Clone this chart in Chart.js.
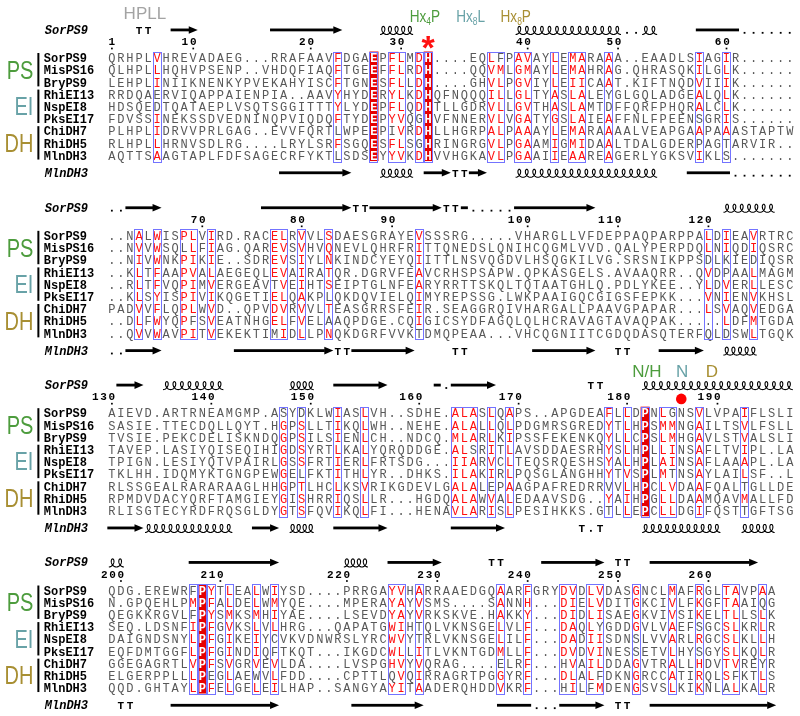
<!DOCTYPE html>
<html><head><meta charset="utf-8">
<script src="https://cdn.jsdelivr.net/npm/chart.js@4.4.1/dist/chart.umd.min.js"></script>
<style>html,body{margin:0;padding:0;background:#fff;overflow:hidden}canvas{display:block}</style>
</head><body>
<canvas id="c" width="800" height="716"></canvas>
<script>
// ---------------- DATA ----------------
const seqNames = ['SorPS9','MisPS16','BryPS9','RhiEI13','NspEI8','PksEI17','ChiDH7','RhiDH5','MlnDH3'];
const groupLabels = ['PS','EI','DH'];
const groupRows = [[0,2],[3,5],[6,8]];
const topTrackName = 'SorPS9';
const bottomTrackName = 'MlnDH3';

const block1 = [
 'QRHPLVHREVADAEG...RRAFAAVFDGAEPFLMDH....EQLFPAVAYLEMARAAA..EAADLSIAGIR......',
 'QLHPLLHQHVPSENP..VHDQFIAQFTGEEFFLRDH....QQVMLGMAYLEMAHRAG.QHRASQKILGLK......',
 'LEHPLINIIKNENKYPVEKAHYISCFTGNESFLLDH....GHVLPGVIYLEIICAAT.KIFTNQDVIIIK......',
 'RRDQAERVIQAPPAIENPIA..AAVYHYDERYLKDHQFNQQQILLGLTYASLALEYGLGQLADGEALQLK......',
 'HDSQEDTQATAEPLVSQTSGGITTTYLYDEPFLQDHTLLGDRVLLGVTHASLAMTDFFQRFPHQRALCLK......',
 'FDVSSINEKSSDVEDNINQPVIQDQFTYDEPYVQGHVFNNERVLVGATYGSLAIEAFFNLFPEENSGRIS......',
 'PLHPLIDRVVPRLGAG..EVVFQRTLWPEEPIVRDHLLHGRPALPAAAYLEMARAAAALVEAPGAAPAAASTAPTW',
 'RLHPLLHRNVSDLRG....LRYLSRFSGQESFLSGHRINGRGVLPGAAMIGMIDAALTDALGDERPAGTARVIR..',
 'AQTTSAAGTAPLFDFSAGECRFYKTLSDSEYYVKDHVVHGKAVLPGAAIIEAAREAGERLYGKSVIKLS.......'
];
const block2 = [
 '..NALWISPLVIRD.RACELRVVLSDAESGRAYEVSSSRG.....VHARGLLVFDEPPAQPARPPALDIEAVRTRC',
 '..NVVWSQLLFIAG.QAREVSVHVQNEVLQHRFRITTQNEDSLQNIHCQGMLVVD.QALYPERPDQLNIQDIQSRC',
 '..NIVWNKPIKIE..SDREVSIYLNKINDCYEYQIITTLNSVQGDVLHSQGKILVG.SRSNIKPPSDLKIEDIQSRC',
 '..KLTFAAPVALAEGEQLEVAIRATQR.DGRVFEAVCRHSPSAPW.QPKASGELS.AVAAQRR..QVDPAALMAGM',
 '..RLTFVQPIMVERGEAVTVEIHTSEIPTGLNFEARYRRTTSKQLTQTAATGHLQ.PDLYKEE..YLDVERLLESC',
 '..KLSYISPIVIKQGETIELQAKPLQKDQVIELQIMYREPSSG.LWKPAAIGQCGIGSFEPKK...VNIENVKHSL',
 'PADVVFLQPLWVD..QPVDVRVVLTEASGRRSFEIR.SEAGGRQIVHARGALLPAAVGPAPAR...LSVAQVEDGA',
 '..DLFWYQPFSVEATNHGELFVELAAQPDGE.CQIGICSYDFAGQLQLHCRAVAGTAVAQPAK.....LDFMTGDA',
 '..QVVWAVPITVEKEKTIMIDLLPNQKDGRFVVKTDMQPEAA...VHCQGNIITCGDQDASQTERFQLDSWLTGQK'
];
const block3 = [
 'AIEVD.ARTRNEAMGMP.ASYDKLWIASLVH..SDHE.ALASLQAPS..APGDEAFLLDPNLGNSVLVPAIFLSLI',
 'SASIE.TTECDQLLQYT.HGPSLLTIKQLWH..NEHE.ALALLQLPDGMRSGREDYTLHPSMMNGAILTSVLFSLL',
 'TVSIE.PEKCDELISKNDQGPSILSIENLCH..NDCQ.MLARLKIPSSFEKENKQYLLCPSLMHGAVLSTVALSLI',
 'TAVEP.LASIYQISEQIHIGDSYRTLKALYQRQDDGE.ALSRITLAVSDDAESRHYSLHPLLINSAFLTVIPL.LA',
 'TPIGN.LESIYQTVPAIRLGSSFRTIERLFRTSDG...IIARVCLTEQSRQESHSYALHPLAINSAFLAAAPL.LA',
 'TKLHH.IDQMYKTGNGPEWGELFKTITHLYR..DHKS.ILAKIRLPQSGLANGHHYTVSPLMTNSAYLAILSF..L',
 'RLSSGEALRARARAAGLHHGPTLHCLKSVRIKGDEVLGALALEPAAGPAFREDRRVVLHPCLVDAAFQALTGLLDE',
 'RPMDVDACYQRFTAMGIEYGISHRRIQSLLR...HGDQALAWVALEDAAVSDG..YAIHPGLLDAAMQAVMALLFD',
 'RLISGTECYRDFRQSGLDYGTSFQVIKQLFI...HENAVLARISLPESIHKKS.GTLLEPCLLDGIFQSTTGFTSG'
];
const block4 = [
 'QDG.EREWRFPYTLEALWIYSD....PRRGAYVHARRAAEDGQAARFGRYDVDLVDASGNCLMAFRGLTAVPAA',
 'N.GPQEHLPMPFALDELWMYQE....MPERAYAYVSMS....SANNH...DIELVDITGKCIVLFKGFTAAIQG',
 'QEGKKRGVLFPYSMKSMHIYAE....LSEVDYAYVRKSKVE.HAKKY...DIDLISAEGKVIVSIKELTLLSLK',
 'SEQ.LDSNFIPFGVKSLVLHRG...QAPATGWIHTQLVKNSGELVLF...DAQLYGDDGVLVAEFSGCSLKRLR',
 'DAIGNDSNYLPFGIKEIYCVKVDNWRSLYRCWVYTRLVKNSGELILF...DADIISDNSLVVARLRGCSLKLLH',
 'EQFDMTGGFLPFGINDIQFTKQT...IKGDCWLLITLVKNTGDMLLF...DVDVINESSETVLHYSGYSLKQLR',
 'GGEGAGRTLVPFSVGRVEVLDA....LVSPGHVYVQRAG....ELRF...HVAILDDAGVTRALLHDVTVREYR',
 'ELGERPPLLLPEGLAEWVLFDD....CPTTLQVQIRRAGRTPGGYRF...DLALFDKNGRCCATIRQLSFKTLS',
 'QQD.GHTAYLPFELGELEILHAP..SANGYAYITAADERQHDDVKRF...HILFMDENGSVSLKIKNLALKALR'
];

// similarity boxes (column ranges, 1-based) and fully conserved (red) columns
const boxes1 = [[6,6],[26,26],[30,30],[32,33],[35,35],[36,36],[43,44],[46,47],[50,50],[52,53],[56,56],[66,66],[69,69]];
const boxes2 = [[4,4],[6,6],[9,10],[12,12],[19,20],[22,22],[25,25],[35,35],[67,67],[69,69],[72,72]];
const boxes3 = [[20,20],[22,22],[26,26],[29,29],[39,41],[43,43],[45,45],[56,56],[58,58],[60,60],[62,63],[66,66],[71,71]];
const boxes4 = [[10,10],[11,11],[12,12],[14,14],[17,17],[19,19],[32,33],[35,35],[44,44],[47,47],[51,52],[54,55],[59,59],[63,63],[66,66],[69,70],[73,73]];
const conserved1 = [30,36];
const conserved2 = [];
const conserved3 = [60];
const conserved4 = [11];

// residue numbering (SorPS9) shown above each block
const ticks1 = [1,10,20,30,40,50,60];
const ticks2 = [70,80,90,100,110,120];
const ticks3 = [130,140,150,160,170,180,190];
const ticks4 = [200,210,220,230,240,250,260];

// secondary structure: [type, firstColumn, lastColumn]; E=strand, H=helix, T=turn, -=bridge, .=no data
const ssTop1 = [['T',4,5],['E',8,10],['E',19,26],['H',31,34],['H',46,57],['.',58,59],['H',60,61],['-',66,70],['.',71,76]];
const ssBot1 = [['E',20,27],['H',31,34],['E',36,38],['T',39,40],['E',41,42],['H',46,61],['-',65,69],['.',70,76]];
const ssTop2 = [['.',1,2],['E',3,6],['E',18,27],['T',28,29],['E',30,37],['T',38,39],['-',40,40],['.',41,45],['E',46,54],['H',69,74]];
const ssBot2 = [['.',1,2],['E',3,6],['E',15,25],['T',26,27],['E',28,34],['T',39,40],['E',48,54],['T',57,58],['E',62,66],['H',69,72]];
const ssTop3 = [['E',2,4],['H',7,13],['H',21,23],['E',26,31],['-',37,37],['.',38,38],['E',39,43],['T',54,55],['H',60,76]];
const ssBot3 = [['E',1,4],['H',5,14],['E',17,19],['H',21,23],['E',26,31],['E',39,44],['T',53,53],['.',54,54],['T',55,55],['H',60,68],['H',71,74]];
const ssTop4 = [['H',1,2],['E',10,19],['H',27,29],['E',32,37],['T',43,44],['E',49,55],['T',57,58],['E',61,72]];
const ssBot4 = [['T',2,3],['E',8,19],['E',28,35],['-',44,47],['.',48,50],['E',51,55],['T',57,58],['E',61,74]];

// motif annotations
const motifTop = [{text:'HPLL', col:2.3}];
const motifs1 = [{h:'Hx',s:'4',t:'P',col:33.95,grp:0},{h:'Hx',s:'8',t:'L',col:39.1,grp:1},{h:'Hx',s:'8',t:'P',col:44.0,grp:2}];
const motifs3 = [{text:'N/H',col:60.2,grp:0},{text:'N',col:64.1,grp:1},{text:'D',col:67.4,grp:2}];
const starCol = 36;   // catalytic His (block 1)
const dotCol = 64;    // block 3 marker

// ---------------- LAYOUT / STYLE ----------------
const LAYOUT = {
  colMin: -10.79, colMax: 76.55,
  blockY: [53.5, 234, 414, 594],
  rowPitch: 12.375,
  numDy: -13.2, numDotDy: -10.5, topDy: -28.5, botDy: 116.5,
  nameCol: -6.53, barCol: -7.13, groupCol: -7.68, trackNameCol: -6.42
};
const COL = {
  grey:'#585858', red:'#ff1010', fill:'#e60000', box:'#7373ff',
  groups:['#4d9c3d','#68a2a7','#a88f33'], hpll:'#a3a3a3'
};
const SIM = {A:'AGVILM',G:'GA',V:'VILMA',I:'IVLMA',L:'LIVMA',M:'MILVA',F:'FYW',Y:'YFWH',W:'WFY',
  S:'STNQ',T:'TSNQ',N:'NSTQD',Q:'QNSTE',D:'DEN',E:'EDQ',K:'KRH',R:'RKH',H:'HRKY',P:'P',C:'C'};

const blocks = [block1, block2, block3, block4];
const boxSets = [boxes1, boxes2, boxes3, boxes4];
const consSets = [conserved1, conserved2, conserved3, conserved4];
const tickSets = [ticks1, ticks2, ticks3, ticks4];
const ssTopSets = [ssTop1, ssTop2, ssTop3, ssTop4];
const ssBotSets = [ssBot1, ssBot2, ssBot3, ssBot4];

function similarSet(letters){
  const aa = letters.filter(ch => /[A-Z]/.test(ch));
  let best = null, bestScore = -1;
  for (const cand of new Set(aa)) {
    const g = SIM[cand] || cand;
    let s = 0;
    aa.forEach(ch => { if (g.includes(ch)) s += (ch === cand ? 1.01 : 1); });
    if (s > bestScore) { bestScore = s; best = cand; }
  }
  return new Set((SIM[best] || best || '').split(''));
}

const alignmentPlugin = {
  id: 'alignment',
  afterDraw(chart){
    const ctx = chart.ctx;
    const X = v => chart.scales.x.getPixelForValue(v);
    const Y = v => chart.scales.y.getPixelForValue(v);
    const cw = X(2) - X(1);
    ctx.save();

    function condensedText(txt, x, y, font, color, sx, align){
      ctx.save(); ctx.font = font; ctx.fillStyle = color;
      const w = ctx.measureText(txt).width * sx;
      let left = x; if (align === 'right') left = x - w; else if (align === 'center') left = x - w/2;
      ctx.translate(left, y); ctx.scale(sx, 1); ctx.textAlign = 'left'; ctx.fillText(txt, 0, 0);
      ctx.restore();
    }
    function drawHelix(x1, x2, yc){
      const n = Math.max(2, Math.round((x2 - x1) / 7.6));
      const p = (x2 - x1 - 3) / n, bx = 3.0, by = 4.0;
      ctx.beginPath();
      const steps = n * 32;
      for (let i = 0; i <= steps; i++) {
        const t = -Math.PI + (i / steps) * 2 * Math.PI * n;
        const x = x1 + 1.5 + p * (t + Math.PI) / (2 * Math.PI) - bx * Math.sin(t);
        const y = yc - by * Math.cos(t);
        if (i) ctx.lineTo(x, y); else ctx.moveTo(x, y);
      }
      ctx.strokeStyle = '#000'; ctx.lineWidth = 1.1; ctx.stroke();
    }
    function drawTrack(elems, yv){
      elems.forEach(([t, a, e]) => {
        const x1 = X(a) - cw/2, x2 = X(e) + cw/2;
        ctx.fillStyle = '#000';
        if (t === 'E') {
          const hl = 9, hh = 3.8;
          ctx.fillRect(x1, yv - 1.4, (x2 - hl) - x1 + 0.5, 2.8);
          ctx.beginPath(); ctx.moveTo(x2 - hl, yv - hh); ctx.lineTo(x2, yv); ctx.lineTo(x2 - hl, yv + hh); ctx.closePath(); ctx.fill();
        } else if (t === '-') {
          ctx.fillRect(x1 + 1, yv - 1.4, x2 - x1 - 2, 2.8);
        } else if (t === 'T') {
          ctx.font = 'bold 11px "Liberation Mono"'; ctx.textAlign = 'center';
          for (let c = a; c <= e; c++) ctx.fillText('T', X(c), yv + 4);
        } else if (t === '.') {
          for (let c = a; c <= e; c++) ctx.fillRect(X(c) - 0.9, yv + 2, 1.8, 1.8);
        } else if (t === 'H') {
          drawHelix(x1, x2, yv + 0.5);
        }
      });
    }

    let residueStart = 1;
    blocks.forEach((rows, b) => {
      const y0 = LAYOUT.blockY[b];
      const rowY = r => Y(y0 + r * LAYOUT.rowPitch);
      const boxes = boxSets[b], cons = consSets[b];
      const boxed = new Set();
      boxes.forEach(([a, e]) => { for (let c = a; c <= e; c++) boxed.add(c); });
      const top = rowY(0) - 6.5, bot = rowY(8) + 5.5;
      const ncol = rows[0].length;

      ctx.fillStyle = COL.fill;
      cons.forEach(c => ctx.fillRect(X(c) - cw/2, top, cw, bot - top));

      ctx.textAlign = 'center'; ctx.textBaseline = 'alphabetic';
      for (let c = 1; c <= ncol; c++) {
        const letters = rows.map(s => s[c - 1]);
        const isCons = cons.includes(c);
        const red = (boxed.has(c) && !isCons) ? similarSet(letters) : null;
        letters.forEach((ch, r) => {
          if (isCons) { ctx.font = 'bold 12px "Liberation Mono"'; ctx.fillStyle = '#fff'; }
          else { ctx.font = '12px "Liberation Mono"'; ctx.fillStyle = (red && red.has(ch)) ? COL.red : COL.grey; }
          ctx.fillText(ch, X(c), rowY(r) + 4.2);
        });
      }
      ctx.strokeStyle = COL.box; ctx.lineWidth = 1;
      boxes.forEach(([a, e]) => {
        ctx.strokeRect(Math.round(X(a) - cw/2) + 0.5, Math.round(top) + 0.5, Math.round(X(e) - X(a) + cw) - 1, Math.round(bot - top));
      });

      ctx.textAlign = 'left'; ctx.fillStyle = '#000'; ctx.font = 'bold 12px "Liberation Mono"';
      seqNames.forEach((n, r) => ctx.fillText(n, X(LAYOUT.nameCol), rowY(r) + 4.2));
      groupRows.forEach(([r1, r2], g) => {
        ctx.fillStyle = '#000';
        ctx.fillRect(X(LAYOUT.barCol) - 1, rowY(r1) - 5, 2, rowY(r2) - rowY(r1) + 9);
        condensedText(groupLabels[g], X(LAYOUT.groupCol), rowY(r1 + 1) + 8.5, '25px "Liberation Sans"', COL.groups[g], 0.8, 'right');
      });

      const ref = rows[0];
      let res = residueStart;
      ctx.font = 'bold 11px "Liberation Mono"'; ctx.fillStyle = '#000'; ctx.textAlign = 'center';
      for (let c = 1; c <= ncol; c++) {
        if (ref[c - 1] === '.') continue;
        if (tickSets[b].includes(res)) {
          const digits = String(res);
          for (let k = 0; k < digits.length; k++) {
            ctx.fillText(digits[k], X(c) - (digits.length - 1 - k) * 8.3, Y(y0 + LAYOUT.numDy));
          }
          ctx.fillRect(X(c) - 0.8, Y(y0 + LAYOUT.numDotDy), 1.7, 1.7);
        }
        res++;
      }
      residueStart = res;

      const yt = Y(y0 + LAYOUT.topDy), yb = Y(y0 + LAYOUT.botDy);
      ctx.font = 'italic bold 12px "Liberation Mono"'; ctx.fillStyle = '#000'; ctx.textAlign = 'left';
      ctx.fillText(topTrackName, X(LAYOUT.trackNameCol), yt + 4);
      ctx.fillText(bottomTrackName, X(LAYOUT.trackNameCol), yb + 4);
      drawTrack(ssTopSets[b], yt);
      drawTrack(ssBotSets[b], yb);
    });

    motifTop.forEach(m => condensedText(m.text, X(m.col), Y(13.5), '17px "Liberation Sans"', COL.hpll, 1, 'left'));
    motifs1.forEach(m => {
      const sx = 0.85;
      let x = X(m.col);
      ctx.font = '16px "Liberation Sans"';
      const w1 = ctx.measureText(m.h).width * sx;
      condensedText(m.h, x, Y(17), '16px "Liberation Sans"', COL.groups[m.grp], sx, 'left'); x += w1;
      ctx.font = '10px "Liberation Sans"';
      const w2 = ctx.measureText(m.s).width * sx;
      condensedText(m.s, x, Y(19.5), '10px "Liberation Sans"', COL.groups[m.grp], sx, 'left'); x += w2;
      condensedText(m.t, x, Y(17), '16px "Liberation Sans"', COL.groups[m.grp], sx, 'left');
    });
    ctx.font = 'bold 34px "Liberation Sans"'; ctx.fillStyle = COL.red; ctx.textAlign = 'center';
    const mm = ctx.measureText('*');
    const sy = Y(LAYOUT.blockY[0] - 16) + (mm.actualBoundingBoxAscent - mm.actualBoundingBoxDescent) / 2;
    ctx.fillText('*', X(starCol), sy);
    motifs3.forEach(m => condensedText(m.text, X(m.col), Y(LAYOUT.blockY[2] - 37), '17px "Liberation Sans"', COL.groups[m.grp], 1, 'center'));
    ctx.restore();
  }
};

new Chart(document.getElementById('c'), {
  type: 'scatter',
  data: { datasets: [{
    data: [{x: dotCol, y: LAYOUT.blockY[2] - 14.5}],
    pointRadius: 5.3, pointBackgroundColor: '#ff0000', pointBorderWidth: 0
  }]},
  options: {
    responsive: false, animation: false, devicePixelRatio: 1,
    layout: { padding: 0 },
    plugins: { legend: { display: false }, tooltip: { enabled: false } },
    scales: {
      x: { type: 'linear', min: LAYOUT.colMin, max: LAYOUT.colMax, display: false },
      y: { type: 'linear', min: 0, max: 716, reverse: true, display: false }
    }
  },
  plugins: [alignmentPlugin]
});
</script>
</body></html>
